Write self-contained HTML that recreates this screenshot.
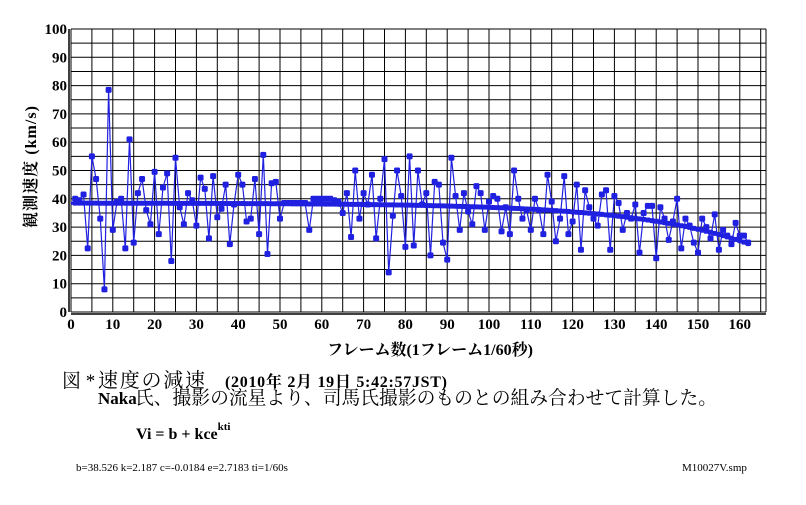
<!DOCTYPE html>
<html><head><meta charset="utf-8">
<style>
html,body{margin:0;padding:0;background:#fff;width:806px;height:505px;overflow:hidden}
svg{display:block}
.t{font-family:"Liberation Serif","Noto Serif CJK SC",serif;font-weight:bold;fill:#000}
.j{font-family:"Liberation Serif","Noto Serif CJK SC",serif;fill:#000}
</style></head><body>
<svg id="s" width="806" height="505" xmlns="http://www.w3.org/2000/svg">
<g id="grid"></g>
<g id="data"></g>
<text class="t" x="430" y="355" font-size="16" text-anchor="middle">フレーム数(1フレーム1/60秒)</text>
<text class="t" transform="translate(36,167) rotate(-90)" font-size="16" text-anchor="middle" textLength="122" lengthAdjust="spacing">観測速度  (km/s)</text>
<text class="j" x="62" y="387" font-size="19">図 *</text>
<text class="j" x="98" y="387" font-size="20" textLength="107" lengthAdjust="spacing">速度の減速</text>
<text class="t" x="225" y="387" font-size="16" textLength="222" lengthAdjust="spacing">(2010年 2月 19日 5:42:57JST)</text>
<text class="t" x="98" y="404" font-size="17">Naka</text>
<text class="j" x="135" y="404" font-size="19" textLength="582" lengthAdjust="spacingAndGlyphs">氏、撮影の流星より、司馬氏撮影のものとの組み合わせて計算した。</text>
<text class="t" x="136" y="439" font-size="16">Vi = b + kce<tspan dy="-9" font-size="11">kti</tspan></text>
<text class="j" x="76" y="471" font-size="11">b=38.526  k=2.187  c=-0.0184  e=2.7183  ti=1/60s</text>
<text class="j" x="682" y="471" font-size="11">M10027V.smp</text>
</svg>
<script>
var X0=71,X1=766,Y0=312,Y1=29,sx=4.18,sy=(Y0-Y1)/100;
var g=document.getElementById('grid'),d=document.getElementById('data'),h='';
for(var u=0;u<=166;u+=5){var x=X0+u*sx;if(x>X1)x=X1;h+='<line x1="'+x+'" y1="'+Y1+'" x2="'+x+'" y2="'+Y0+'" stroke="#000" stroke-width="1"/>';}
h+='<line x1="'+X1+'" y1="'+Y1+'" x2="'+X1+'" y2="'+Y0+'" stroke="#000"/>';
for(var v=0;v<=100;v+=5){var y=Y0-v*sy;h+='<line x1="'+X0+'" y1="'+y+'" x2="'+X1+'" y2="'+y+'" stroke="#000" stroke-width="1"/>';}
h+='<line x1="'+(X0-2)+'" y1="'+Y1+'" x2="'+(X0-2)+'" y2="'+Y0+'" stroke="#000" stroke-width="1.5"/>';
h+='<line x1="'+X0+'" y1="'+(Y0+2)+'" x2="'+X1+'" y2="'+(Y0+2)+'" stroke="#000" stroke-width="1.5"/>';
for(v=0;v<=100;v+=10){h+='<text class="t" x="'+(X0-4)+'" y="'+(Y0-v*sy+5)+'" font-size="15" text-anchor="end">'+v+'</text>';}
for(u=0;u<=160;u+=10){h+='<text class="t" x="'+(X0+u*sx)+'" y="'+(Y0+17)+'" font-size="15" text-anchor="middle">'+u+'</text>';}
g.innerHTML=h;
var obs=[40,39.5,41.5,22.5,55,47,33,8,78.5,29,39,40,22.5,61,24.5,42,47,36,31,49.5,27.5,44,49,18,54.5,37,31,42,39.5,30.5,47.5,43.5,26,48,33.5,36.5,45,24,38,48.5,45,32,33,47,27.5,55.5,20.5,45.5,46,33,38.5,38.5,38.5,38.5,38.5,38.5,29,40,40,40,40,40,39.5,39,35,42,26.5,50,33,42,38,48.5,26,40,54,14,34,50,41,23,55,23.5,50,38,42,20,46,45,24.5,18.5,54.5,41,29,42,35.5,31,44.5,42,29,39,41,40,28.5,37,27.5,50,40,33,36,29,40,36,27.5,48.5,39,25,33,48,27.5,32,45,22,43,37,33,30.5,41.5,43,22,41,38.5,29,35,33,38,21,35,37.5,37.5,19,37,33,25.5,32,40,22.5,33,30.5,24.5,21,33,30,26,34.5,22,29,27,24,31.5,27,27,24.5];
function fit(i){return 38.5-0.04*Math.exp(0.0363*i);}
var p='',m='',f='';
for(var i=1;i<=162;i++){var x=X0+i*sx,y=Y0-obs[i-1]*sy;p+=(i==1?'M':'L')+x.toFixed(1)+' '+y.toFixed(1);
m+='<rect x="'+(x-3)+'" y="'+(y-3)+'" width="6" height="6" rx="1.5" fill="#2020e0"/>';
var fy=Y0-fit(i)*sy;f+='<rect x="'+(x-2.5)+'" y="'+(fy-2.5)+'" width="5" height="5" rx="1" fill="#2020e0"/>';}
var fp='';for(i=0;i<=162;i++){fp+=(i==0?'M':'L')+(X0+i*sx).toFixed(1)+' '+(Y0-fit(i)*sy).toFixed(1);}
d.innerHTML='<path d="'+fp+'" fill="none" stroke="#2020e0" stroke-width="3"/>'+f+'<path d="'+p+'" fill="none" stroke="#2020e0" stroke-width="1.2"/>'+m;
</script>
</body></html>
